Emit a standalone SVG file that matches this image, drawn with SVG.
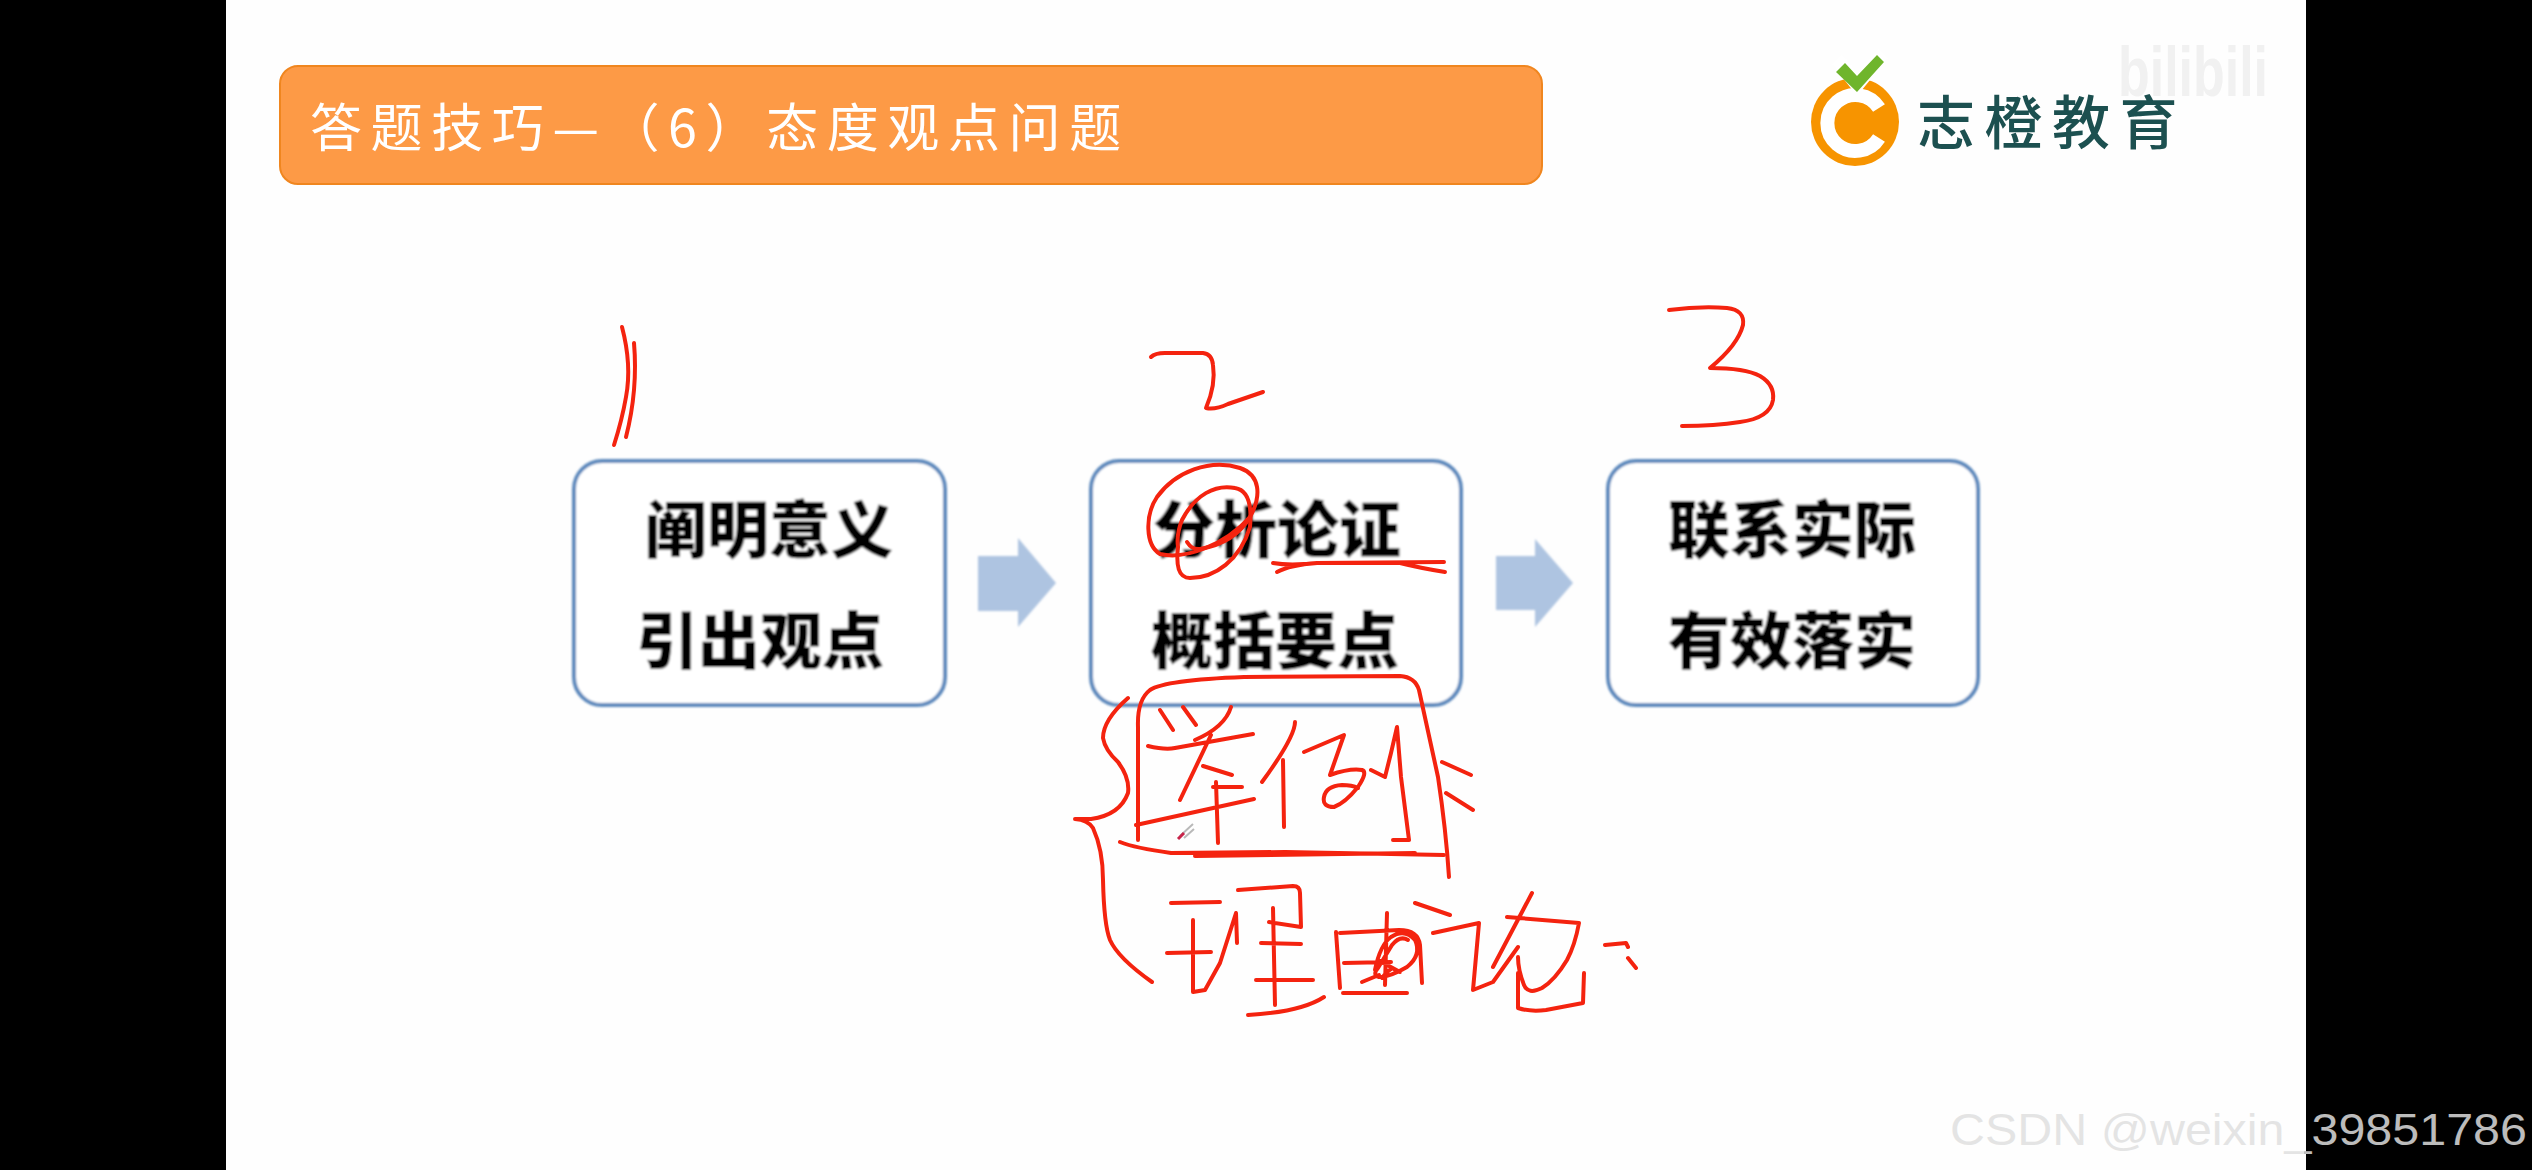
<svg xmlns="http://www.w3.org/2000/svg" width="2532" height="1170" viewBox="0 0 2532 1170">
<style>
.box{fill:#fff;stroke:#5c88bc;stroke-width:4}
.lbl{font-family:"Noto Sans CJK SC","Noto Sans",sans-serif;font-weight:900;font-size:62px;fill:#050505;text-anchor:middle}
.arrow{fill:#aec4e1}
.ink{fill:none;stroke:#f4230f;stroke-width:4;stroke-linecap:round;stroke-linejoin:round}
.soft{filter:url(#soft)}
</style>
<defs>
<filter id="soft" x="-5%" y="-5%" width="110%" height="110%"><feGaussianBlur stdDeviation="0.8"/></filter>
<linearGradient id="wm" gradientUnits="userSpaceOnUse" x1="1950" y1="0" x2="2527" y2="0">
<stop offset="0.6135" stop-color="#e4e4e4"/><stop offset="0.6135" stop-color="#bcbcbc"/>
</linearGradient>
</defs>
<rect width="2532" height="1170" fill="#000"/>
<rect x="226" y="0" width="2080" height="1170" fill="#fefefe"/>

<g id="title">
<rect x="280" y="66" width="1262" height="118" rx="18" fill="#fd9a46" stroke="#f0861f" stroke-width="2"/>
<text x="310" y="147" font-family="'Noto Sans CJK SC',sans-serif" font-weight="400" font-size="52" letter-spacing="8.6" fill="#fff">答题技巧—（6）态度观点问题</text>
</g>

<g id="logo">
<text x="2118" y="96" font-family="'Liberation Sans',sans-serif" font-weight="700" font-size="70" textLength="150" lengthAdjust="spacingAndGlyphs" fill="#f1f1f1">bilibili</text>
<circle cx="1855" cy="122" r="44" fill="#f79400"/>
<path d="M1879 108A28 28 0 1 0 1879 138" fill="none" stroke="#fff" stroke-width="14"/>
<path d="M1832 64L1857 96L1888 58L1878 48L1857 72L1842 54Z" fill="#fff"/>
<polygon points="1845,63 1857,76 1877,55 1884,62 1857,92 1836,72" fill="#6fb52c"/>
<text x="1917" y="144" font-family="'Noto Sans CJK SC',sans-serif" font-weight="500" font-size="58" letter-spacing="9.5" fill="#1c5050">志橙教育</text>
</g>

<g id="node-1" class="soft">
<rect class="box" x="574" y="461" width="371" height="244" rx="28"/>
<text class="lbl" x="769" y="553">阐明意义</text>
<text class="lbl" x="760" y="664">引出观点</text>
</g>
<g id="node-2" class="soft">
<rect class="box" x="1091" y="461" width="370" height="244" rx="28"/>
<text class="lbl" x="1277" y="553">分析论证</text>
<text class="lbl" x="1275" y="664">概括要点</text>
</g>
<g id="node-3" class="soft">
<rect class="box" x="1608" y="461" width="370" height="244" rx="28"/>
<text class="lbl" x="1792" y="553">联系实际</text>
<text class="lbl" x="1792" y="664">有效落实</text>
</g>

<g id="connectors" class="soft">
<polygon class="arrow" points="978,556 1018,556 1018,538 1056,583 1018,627 1018,611 978,611"/>
<polygon class="arrow" points="1496,556 1535,556 1535,539 1573,583 1535,627 1535,610 1496,610"/>
</g>

<g id="handwriting" class="ink">
<path d="M622 327Q632 365 626 397Q622 420 614 445M634 343Q638 390 626 437"/>
<path d="M1151 357Q1155 353 1165 353L1203 353Q1212 354 1213 365Q1216 385 1206 408Q1215 410 1228 404L1263 392"/>
<path d="M1669 310Q1700 306 1727 308Q1745 310 1743 325Q1738 345 1710 368Q1745 368 1760 376Q1775 385 1773 400Q1770 418 1740 422Q1715 426 1682 426"/>
<path d="M1250 517C1262 495 1260 475 1240 468C1210 458 1175 472 1157 497C1145 515 1145 545 1160 554C1185 560 1225 545 1250 517"/>
<path d="M1178 547C1176 565 1178 578 1190 578C1215 578 1240 560 1250 527C1252 505 1248 490 1235 488C1215 484 1195 495 1182 520C1178 530 1177 540 1178 547"/>
<path d="M1187 542Q1192 550 1200 549Q1235 543 1250 517"/>
<path d="M1273 563Q1290 566 1317 563L1444 562M1445 572Q1420 568 1400 563L1317 563Q1290 565 1277 572"/>
<path d="M1138 840L1138 727Q1137 700 1150 690Q1165 680 1244 677L1400 676Q1415 677 1419 690Q1430 740 1438 777Q1446 830 1449 877"/>
<path d="M1120 842Q1135 848 1171 853L1285 852L1444 855M1195 856L1415 853"/>
<path d="M1128 698Q1103 720 1103 738Q1105 750 1118 762Q1130 778 1128 793Q1120 815 1091 819L1075 819Q1088 820 1093 828Q1103 850 1103 880Q1104 925 1110 940Q1118 958 1152 982"/>
<path d="M1160 710L1173 730M1183 707L1196 725M1231 707Q1225 727 1195 740M1148 746Q1165 750 1175 748L1253 734M1211 735L1180 800M1203 766L1232 775M1213 787L1242 787M1136 825L1254 799M1216 782L1218 843"/>
<path d="M1295 722Q1295 737 1262 782M1283 760L1284 827M1304 752L1344 735L1330 775Q1350 768 1362 770Q1368 772 1358 787Q1345 803 1334 807Q1322 807 1324 797Q1326 786 1342 785Q1352 785 1358 788M1371 770L1385 777L1391 753L1397 727L1401 777L1409 840L1393 840M1442 762L1471 775M1446 793L1473 810"/>
<path d="M1171 903L1220 902M1167 953L1211 952M1193 920L1193 992L1205 990L1220 963L1236 913L1237 943M1238 890L1293 886Q1300 886 1300 893L1301 927L1269 922M1273 908L1275 1005M1261 943L1301 944M1256 980L1313 980M1248 1015Q1301 1012 1324 997"/>
<path d="M1336 932L1340 988M1340 933L1399 930Q1418 930 1420 945L1422 983M1387 913L1385 985M1344 963L1391 962M1343 993L1407 993M1375 970Q1380 945 1391 937Q1405 928 1415 940Q1422 955 1407 967Q1390 977 1379 977Q1372 975 1378 968Q1384 958 1392 945Q1400 935 1408 940M1382 978Q1392 965 1395 970M1378 960L1400 972M1362 982L1379 975"/>
<path d="M1415 903L1450 915M1433 933L1479 923L1473 990L1493 982L1518 947M1532 893L1493 967M1507 917L1579 923Q1575 945 1567 960Q1555 980 1542 988Q1528 995 1524 985Q1518 970 1518 957M1518 973L1518 1008Q1530 1012 1546 1010L1583 1003L1584 973M1605 945L1626 943L1628 947M1628 958L1636 968"/>
</g>

<g id="cursor">
<path d="M1180 836L1193 824M1184 838L1194 829" fill="none" stroke="#b9b9b9" stroke-width="2"/>
<path d="M1178 839L1184 833" stroke="#c8244a" stroke-width="3" fill="none"/>
</g>

<text id="watermark" x="1950" y="1145" font-family="'Liberation Sans',sans-serif" font-size="45" textLength="577" lengthAdjust="spacingAndGlyphs" fill="url(#wm)">CSDN @weixin_39851786</text>
</svg>
